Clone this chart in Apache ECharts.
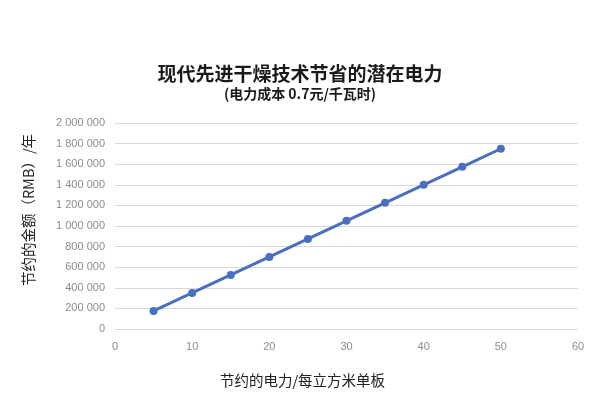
<!DOCTYPE html>
<html><head><meta charset="utf-8">
<script src="https://cdn.jsdelivr.net/npm/echarts@6/dist/echarts.min.js"></script>
<style>html,body{margin:0;padding:0;background:#fff}#c{width:600px;height:418px}</style>
</head><body><div id="c"></div>
<script>
const titleText = '现代先进干燥技术节省的潜在电力';
const subtitleText = '(电力成本 0.7元/千瓦时)';
const xAxisName = '节约的电力/每立方米单板';
const yAxisName = '节约的金额（RMB）/年';
const xValues = [5, 10, 15, 20, 25, 30, 35, 40, 45, 50];
const yValues = [175000, 350000, 525000, 700000, 875000, 1050000, 1225000, 1400000, 1575000, 1750000];

const fmt = v => String(v).replace(/\B(?=(\d{3})+(?!\d))/g, ' ');
const chart = echarts.init(document.getElementById('c'));
chart.setOption({
  animation: false,
  backgroundColor: '#fff',
  title: [
    { text: titleText, left: 'center', top: 59, textStyle: { fontSize: 19, fontWeight: 'bold', color: '#1a1a1a', fontFamily: 'Noto Sans CJK SC' } },
    { text: subtitleText, left: 'center', top: 82, textStyle: { fontSize: 14, fontWeight: 'bold', color: '#1a1a1a', fontFamily: 'Noto Sans CJK SC' } }
  ],
  grid: { left: 115, right: 22, top: 123, bottom: 89 },
  xAxis: {
    type: 'value', min: 0, max: 60, interval: 10,
    name: xAxisName, nameLocation: 'middle', nameGap: 44,
    nameTextStyle: { fontSize: 14.5, color: '#222', padding: [0, 88, 0, 0], fontFamily: 'Noto Sans CJK SC' },
    axisLine: { show: false }, axisTick: { show: false },
    splitLine: { show: false },
    axisLabel: { color: '#8c8c8c', fontSize: 11, margin: 12 }
  },
  yAxis: {
    type: 'value', min: 0, max: 2000000, interval: 200000,
    name: yAxisName, nameLocation: 'middle', nameRotate: 90, nameGap: 79,
    nameTextStyle: { fontSize: 14.5, color: '#222', padding: [0, 0, 0, 32], fontFamily: 'Noto Sans CJK SC' },
    axisLine: { show: false }, axisTick: { show: false },
    splitLine: { lineStyle: { color: '#d9d9d9', width: 1 } },
    axisLabel: { color: '#8c8c8c', fontSize: 11, margin: 10, formatter: fmt }
  },
  series: [{
    type: 'line',
    data: xValues.map((x, i) => [x, yValues[i]]),
    symbol: 'circle', symbolSize: 8,
    lineStyle: { color: '#4a6fc1', width: 3 },
    itemStyle: { color: '#4a6fc1' }
  }]
});
</script></body></html>
